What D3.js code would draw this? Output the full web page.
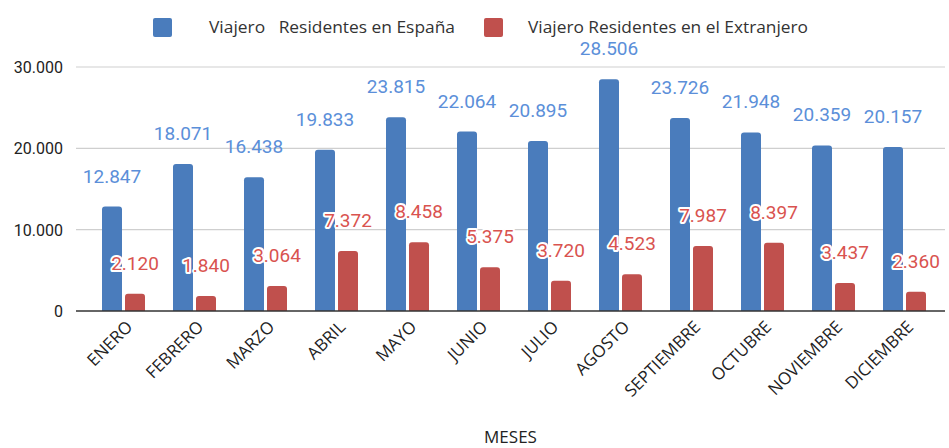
<!DOCTYPE html>
<html>
<head>
<meta charset="utf-8">
<script src="https://cdn.jsdelivr.net/npm/d3@7"></script>
<style>
  body { margin: 0; background: #fff; }
  .val { font-family: Roboto, "Noto Sans", sans-serif; font-size: 19px; }
  .red-val { paint-order: stroke; stroke: #fff; stroke-width: 4px; stroke-linejoin: round; }
</style>
</head>
<body>
<div class="chart"></div>
<script>
// data
var months = ["ENERO", "FEBRERO", "MARZO", "ABRIL", "MAYO", "JUNIO", "JULIO",
  "AGOSTO", "SEPTIEMBRE", "OCTUBRE", "NOVIEMBRE", "DICIEMBRE"];
var espana = [12847, 18071, 16438, 19833, 23815, 22064, 20895, 28506, 23726, 21948, 20359, 20157];
var extranjero = [2120, 1840, 3064, 7372, 8458, 5375, 3720, 4523, 7987, 8397, 3437, 2360];
var seriesNames = ["Viajero   Residentes en España", "Viajero Residentes en el Extranjero"];
var yTicks = [0, 10000, 20000, 30000];

var svgWidth = 949;
var svgHeight = 448;
var plotLeft = 76, plotRight = 945;
var blue = "#4a7cbc", red = "#c0504d";
var blueText = "#5b8fd9", redText = "#d9534f";

var svg = d3.select(".chart").append("svg")
  .attr("width", svgWidth)
  .attr("height", svgHeight)
  .style("display", "block");

var x = d3.scaleBand().domain(months).range([88, 940]).paddingInner(0).paddingOuter(0);
var y = d3.scaleLinear().domain([0, 30000]).range([311, 67]);
var bw = 20, gap = 3;

var fmt = d3.formatLocale({ decimal: ",", thousands: ".", grouping: [3], currency: ["", "€"] }).format(",d");

// gridlines
svg.append("g").selectAll("line")
  .data(yTicks.filter(function(d) { return d > 0; }))
  .enter().append("line")
  .attr("x1", plotLeft).attr("x2", plotRight)
  .attr("y1", function(d) { return y(d); })
  .attr("y2", function(d) { return y(d); })
  .attr("stroke", "#cfcfcf").attr("stroke-width", 1.2);

// y tick labels
svg.append("g").selectAll("text")
  .data(yTicks)
  .enter().append("text")
  .attr("x", 63)
  .attr("y", function(d) { return y(d) + 6; })
  .attr("text-anchor", "end")
  .attr("font-family", "Roboto, sans-serif")
  .attr("font-size", 16)
  .attr("fill", "#222")
  .text(function(d) { return fmt(d); });

function roundTop(x0, y0, w, h, r) {
  r = Math.min(r, h);
  return "M" + x0 + "," + (y0 + h) + "V" + (y0 + r) + "Q" + x0 + "," + y0 + " " + (x0 + r) + "," + y0 +
    "H" + (x0 + w - r) + "Q" + (x0 + w) + "," + y0 + " " + (x0 + w) + "," + (y0 + r) + "V" + (y0 + h) + "Z";
}

function center(m) { return x(m) + x.bandwidth() / 2; }

// blue bars
svg.append("g").selectAll("path")
  .data(espana)
  .enter().append("path")
  .attr("d", function(d, i) {
    var cx = center(months[i]);
    return roundTop(cx - gap / 2 - bw, y(d), bw, y(0) - y(d), 3);
  })
  .attr("fill", blue);

// red bars
svg.append("g").selectAll("path")
  .data(extranjero)
  .enter().append("path")
  .attr("d", function(d, i) {
    var cx = center(months[i]);
    return roundTop(cx + gap / 2, y(d), bw, y(0) - y(d), 3);
  })
  .attr("fill", red);

// baseline
svg.append("line")
  .attr("x1", plotLeft).attr("x2", plotRight)
  .attr("y1", y(0)).attr("y2", y(0))
  .attr("stroke", "#333").attr("stroke-width", 1.5);

// value labels
svg.append("g").selectAll("text")
  .data(espana)
  .enter().append("text")
  .attr("class", "val")
  .attr("x", function(d, i) { return center(months[i]) - gap / 2 - bw / 2; })
  .attr("y", function(d) { return y(d) - 24; })
  .attr("text-anchor", "middle")
  .attr("fill", blueText)
  .text(function(d) { return fmt(d); });

svg.append("g").selectAll("text")
  .data(extranjero)
  .enter().append("text")
  .attr("class", "val red-val")
  .attr("x", function(d, i) { return center(months[i]) + gap / 2 + bw / 2; })
  .attr("y", function(d) { return y(d) - 24; })
  .attr("text-anchor", "middle")
  .attr("fill", redText)
  .text(function(d) { return fmt(d); });

// x labels
svg.append("g").selectAll("text")
  .data(months)
  .enter().append("text")
  .attr("transform", function(d) {
    return "translate(" + (center(d) + 10) + "," + 328 + ") rotate(-45)";
  })
  .attr("text-anchor", "end")
  .attr("font-family", "'Open Sans', sans-serif")
  .attr("font-size", 17)
  .attr("fill", "#222")
  .text(function(d) { return d; });

// axis title
svg.append("text")
  .attr("x", (plotLeft + plotRight) / 2)
  .attr("y", 443)
  .attr("text-anchor", "middle")
  .attr("font-family", "'Open Sans', sans-serif")
  .attr("font-size", 17)
  .attr("fill", "#222")
  .text("MESES");

// legend
var legend = svg.append("g");
var legendX = [153, 484];
var legendTextX = [209, 528];
var legendTextW = [246, 280];
[blue, red].forEach(function(c, i) {
  legend.append("rect")
    .attr("x", legendX[i]).attr("y", 18)
    .attr("width", 19).attr("height", 19)
    .attr("rx", 2)
    .attr("fill", c);
  legend.append("text")
    .attr("x", legendTextX[i]).attr("y", 33)
    .attr("font-family", "'Open Sans', sans-serif")
    .attr("font-size", 16.5)
    .attr("fill", "#333")
    .attr("textLength", legendTextW[i])
    .attr("lengthAdjust", "spacingAndGlyphs")
    .style("white-space", "pre")
    .text(seriesNames[i]);
});
</script>
</body>
</html>
